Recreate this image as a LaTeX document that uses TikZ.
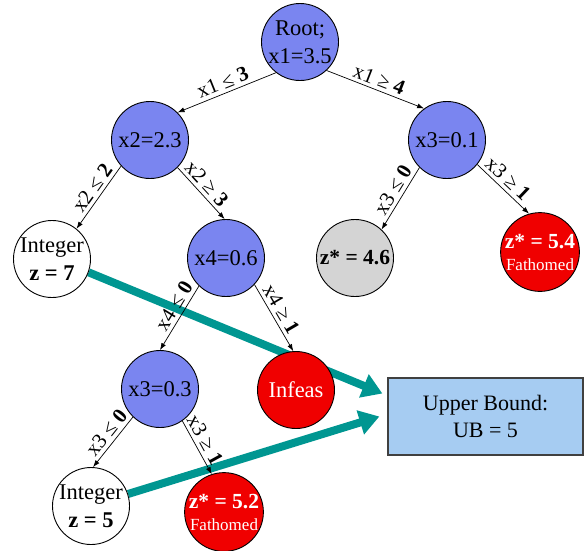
\documentclass[tikz,border=0pt]{standalone}
\usepackage{fontspec}
\setmainfont{Liberation Serif}
\usetikzlibrary{arrows.meta,backgrounds,calc}
\definecolor{nodeblue}{RGB}{122,133,240}
\definecolor{fathomred}{RGB}{240,0,0}
\definecolor{nodegray}{RGB}{212,212,212}
\definecolor{boundteal}{RGB}{0,150,145}
\definecolor{boxblue}{RGB}{166,204,242}
\newcommand{\zstar}[1]{{\fontsize{21.5}{26}\selectfont\bfseries #1}}
\newcommand{\fathom}{{\fontsize{17}{18}\selectfont Fathomed}}
\begin{document}
\begin{tikzpicture}[x=1pt,y=-1pt,
  bbnode/.style={circle,draw=black,line width=0.9pt,minimum size=77pt,inner sep=0pt,
    align=center,font=\fontsize{22.5}{28}\selectfont},
  lpnode/.style={bbnode,fill=nodeblue},
  intnode/.style={bbnode,fill=white},
  cutnode/.style={bbnode,fill=nodegray},
  deadnode/.style={bbnode,fill=fathomred,text=white},
  branch/.style={-{Latex[length=7pt,width=5pt]},line width=0.7pt},
  cutlabel/.style={sloped,above=2.5pt,inner sep=1pt,font=\fontsize{21}{23}\selectfont},
  bound/.style={draw=boundteal,line width=8pt,-{Triangle[length=20pt,width=24pt]}},
  ubbox/.style={rectangle,draw=black!75,line width=1.2pt,fill=boxblue,
    minimum width=195pt,minimum height=77pt,align=center,font=\fontsize{22}{27}\selectfont},
]
\useasboundingbox (0,0) rectangle (585,550);

% tree nodes
\node[lpnode]   (root) at (300,42)  {Root;\\x1=3.5};
\node[lpnode]   (x2)   at (150,140) {x2=2.3};
\node[lpnode]   (x3)   at (447,140) {x3=0.1};
\node[intnode]  (int7) at (52,259)  {Integer\\\textbf{z = 7}};
\node[lpnode]   (x4)   at (226,258) {x4=0.6};
\node[cutnode]  (g46)  at (355,258) {\zstar{z* = 4.6}};
\node[deadnode] (r54)  at (540,252) {\zstar{z* = 5.4}\\[-6pt]\fathom};
\node[lpnode]   (x3b)  at (160,389) {x3=0.3};
\node[deadnode] (inf)  at (296,390) {Infeas};
\node[intnode]  (int5) at (91,506)  {Integer\\\textbf{z = 5}};
\node[deadnode] (r52)  at (224,512) {\zstar{z* = 5.2}\\[-6pt]\fathom};

% incumbent box
\node[ubbox] (ub) at (485.5,416.5) {Upper Bound:\\UB = 5};

% branching arcs
\draw[branch] (root.232) -- node[cutlabel] {x1 ≤ \textbf{3}} (x2.45);
\draw[branch] (root.313) -- node[cutlabel] {x1 ≥ \textbf{4}} (x3.126);
\draw[branch] (x2.222) -- node[cutlabel,pos=0.45] {x2 ≤ \textbf{2}} (int7.51);
\draw[branch] (x2.315) -- node[cutlabel,pos=0.45] {x2 ≥ \textbf{3}} (x4.92);
\draw[branch] (x3.225) -- node[cutlabel,pos=0.45] {x3 ≤ \textbf{0}} (g46.47);
\draw[branch] (x3.321) -- node[cutlabel,pos=0.45] {x3 ≥ \textbf{1}} (r54.106);
\draw[branch] (x4.226) -- node[cutlabel,pos=0.4] {x4 ≤ \textbf{0}} (x3b.90);
\draw[branch] (x4.317) -- node[cutlabel,pos=0.45] {x4 ≥ \textbf{1}} (inf.94);
\draw[branch] (x3b.226) -- node[cutlabel,pos=0.45] {x3 ≤ \textbf{0}} (int5.87);
\draw[branch] (x3b.305) -- node[cutlabel,pos=0.45] {x3 ≥ \textbf{1}} (r52.108);

% integer solutions feeding the bound, behind the tree
\coordinate (tipA) at ($(ub.west)+(-5,-23)$);
\coordinate (tipB) at ($(ub.west)+(-8,0)$);
\begin{pgfonlayer}{background}
\draw[bound] (int7.-20) -- (tipA);
\draw[bound] (int5.18) -- (tipB);
\end{pgfonlayer}
\end{tikzpicture}
\end{document}
